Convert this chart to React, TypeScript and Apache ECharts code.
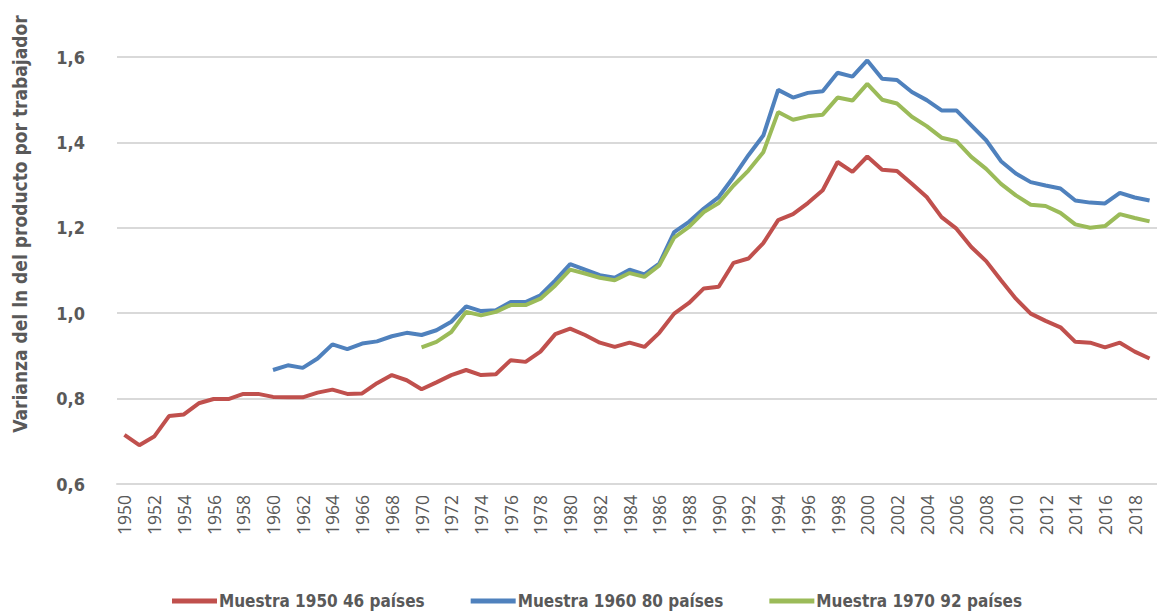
import React, { useEffect, useRef } from "react";
import * as echarts from "echarts";

const years: string[] = [];
for (let y = 1950; y <= 2019; y++) years.push(String(y));

const muestra1950: (number | null)[] = [
  0.715, 0.691, 0.711, 0.759, 0.763, 0.789, 0.799, 0.799, 0.811, 0.811,
  0.804, 0.803, 0.803, 0.814, 0.821, 0.811, 0.812, 0.836, 0.855, 0.843,
  0.822, 0.838, 0.855, 0.867, 0.855, 0.857, 0.890, 0.886, 0.910, 0.951,
  0.964, 0.949, 0.931, 0.921, 0.931, 0.921, 0.954, 0.999, 1.024, 1.058,
  1.062, 1.118, 1.128, 1.164, 1.218, 1.232, 1.258, 1.288, 1.354, 1.331,
  1.367, 1.336, 1.333, 1.303, 1.272, 1.225, 1.198, 1.155, 1.122, 1.077,
  1.034, 0.999, 0.982, 0.967, 0.933, 0.931, 0.920, 0.931, 0.910, 0.894,
];

const muestra1960: (number | null)[] = [
  null, null, null, null, null, null, null, null, null, null,
  0.867, 0.878, 0.872, 0.894, 0.927, 0.916, 0.929, 0.934, 0.946, 0.954,
  0.949, 0.960, 0.980, 1.016, 1.005, 1.007, 1.026, 1.026, 1.042, 1.077,
  1.115, 1.102, 1.089, 1.083, 1.102, 1.091, 1.116, 1.190, 1.214, 1.245,
  1.272, 1.319, 1.370, 1.416, 1.523, 1.505, 1.516, 1.520, 1.563, 1.554,
  1.592, 1.549, 1.546, 1.518, 1.499, 1.475, 1.475, 1.440, 1.405, 1.356,
  1.327, 1.307, 1.299, 1.292, 1.264, 1.259, 1.257, 1.282, 1.271, 1.264,
];

const muestra1970: (number | null)[] = [
  null, null, null, null, null, null, null, null, null, null,
  null, null, null, null, null, null, null, null, null, null,
  0.920, 0.933, 0.956, 1.003, 0.995, 1.003, 1.019, 1.019, 1.034, 1.065,
  1.102, 1.093, 1.083, 1.077, 1.094, 1.085, 1.112, 1.177, 1.202, 1.237,
  1.258, 1.299, 1.334, 1.377, 1.471, 1.453, 1.461, 1.465, 1.505, 1.498,
  1.537, 1.500, 1.491, 1.460, 1.438, 1.411, 1.403, 1.366, 1.338, 1.303,
  1.276, 1.254, 1.251, 1.235, 1.208, 1.200, 1.204, 1.232, 1.223, 1.215,
];

const seriesNames = [
  "Muestra 1950 46 países",
  "Muestra 1960 80 países",
  "Muestra 1970 92 países",
];
const yTitle = "Varianza del ln del producto por trabajador";

const COND = "'DejaVu Sans Condensed', 'Liberation Sans Narrow', sans-serif";

export default function App() {
  const ref = useRef<HTMLDivElement>(null);
  useEffect(() => {
    document.body.style.margin = "0";
    if (!ref.current) return;
    const chart = echarts.init(ref.current, undefined, { renderer: "svg" });
    const mk = (name: string, data: (number | null)[], color: string) => ({
      name,
      type: "line",
      data,
      symbol: "none",
      connectNulls: false,
      lineStyle: { color, width: 4 },
      itemStyle: { color },
    });
    chart.setOption({
      animation: false,
      backgroundColor: "#ffffff",
      grid: { left: 117, right: 0, top: 57, height: 427, containLabel: false },
      xAxis: {
        type: "category",
        data: years,
        boundaryGap: true,
        axisLine: { show: true, lineStyle: { color: "#d9d9d9", width: 2 } },
        axisTick: { show: false },
        axisLabel: {
          interval: 1,
          rotate: 90,
          margin: 11,
          color: "#595959",
          fontSize: 17.5,
          fontFamily: "'Open Sans', sans-serif",
        },
        splitLine: { show: false },
      },
      yAxis: {
        type: "value",
        min: 0.6,
        max: 1.6,
        interval: 0.2,
        axisLine: { show: false },
        axisTick: { show: false },
        axisLabel: {
          margin: 32,
          color: "#595959",
          fontSize: 18,
          fontWeight: "bold",
          fontFamily: COND,
          formatter: (v: number) => v.toFixed(1).replace(".", ","),
        },
        splitLine: { lineStyle: { color: "#d9d9d9", width: 2 } },
      },
      legend: {
        left: 167,
        top: 587,
        icon: "rect",
        itemWidth: 45,
        itemHeight: 5,
        itemGap: 46,
        data: seriesNames,
        textStyle: {
          color: "#595959",
          fontSize: 17,
          lineHeight: 18,
          fontWeight: "bold",
          fontFamily: COND,
          padding: [0, 0, 0, -3],
        },
      },
      graphic: [
        {
          type: "text",
          x: 20,
          y: 224,
          rotation: Math.PI / 2,
          style: {
            text: yTitle,
            fill: "#595959",
            fontSize: 19,
            fontWeight: "bold",
            fontFamily: COND,
            textAlign: "center",
            textVerticalAlign: "middle",
          },
        },
      ],
      series: [
        mk(seriesNames[0], muestra1950, "#C0504D"),
        mk(seriesNames[1], muestra1960, "#4F81BD"),
        mk(seriesNames[2], muestra1970, "#9BBB59"),
      ],
    });
    return () => chart.dispose();
  }, []);
  return <div ref={ref} style={{ width: 1157, height: 612 }} />;
}
